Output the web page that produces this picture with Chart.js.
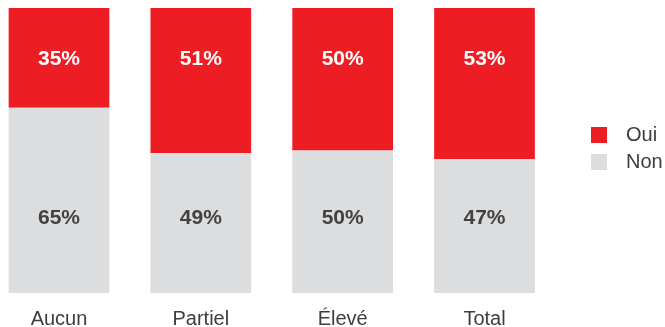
<!DOCTYPE html>
<html lang="fr">
<head>
<meta charset="utf-8">
<script src="https://cdn.jsdelivr.net/npm/chart.js@4.4.1/dist/chart.umd.min.js"></script>
<style>
  html, body { margin: 0; padding: 0; background: #fff; overflow: hidden; }
  #wrap { position: relative; width: 665px; height: 327px; overflow: hidden; }
</style>
</head>
<body>
<div id="wrap"><canvas id="chart" width="665" height="345"></canvas></div>
<script>
const categories = ["Aucun", "Partiel", "Élevé", "Total"];
const ouiValues = [35, 51, 50, 53];
const nonValues = [65, 49, 50, 47];

const RED = "#ee1d24";
const GRAY = "#dcdddf";
const TEXT = "#3d3d3d";
const FONT = "'Liberation Sans', Arial, Helvetica, sans-serif";

// percentages printed inside each bar, at a fixed height per series
const valueLabels = {
  id: "valueLabels",
  afterDatasetsDraw(chart, args, opts) {
    const ctx = chart.ctx;
    const y = chart.scales.y;
    ctx.save();
    ctx.font = "bold 21px " + FONT;
    ctx.textAlign = "center";
    ctx.textBaseline = "middle";
    chart.data.datasets.forEach((ds, i) => {
      const meta = chart.getDatasetMeta(i);
      ctx.fillStyle = ds.labelColor;
      meta.data.forEach((bar, j) => {
        ctx.fillText(ds.data[j] + "%", bar.x, y.getPixelForValue(opts.at[ds.label]));
      });
    });
    ctx.restore();
  },
};

// legend on the right, Oui above Non
const sideLegend = {
  id: "sideLegend",
  afterDraw(chart, args, opts) {
    const ctx = chart.ctx;
    ctx.save();
    ctx.font = "20px " + FONT;
    ctx.textBaseline = "middle";
    ctx.textAlign = "left";
    const items = chart.data.datasets.slice().reverse();
    items.forEach((ds, i) => {
      const top = opts.top + i * opts.step;
      ctx.fillStyle = ds.backgroundColor;
      ctx.fillRect(opts.x, top, 16, 16);
      ctx.fillStyle = TEXT;
      ctx.fillText(ds.label, opts.x + 35, top + 8.5);
    });
    ctx.restore();
  },
};

new Chart(document.getElementById("chart"), {
  type: "bar",
  data: {
    labels: categories,
    datasets: [
      {
        label: "Non",
        data: nonValues,
        backgroundColor: GRAY,
        labelColor: "#424242",
        borderWidth: 0,
        clip: false,
      },
      {
        label: "Oui",
        data: ouiValues,
        backgroundColor: RED,
        labelColor: "#ffffff",
        borderWidth: 0,
        clip: false,
      },
    ],
  },
  plugins: [valueLabels, sideLegend],
  options: {
    responsive: false,
    animation: false,
    devicePixelRatio: 1,
    layout: { padding: { top: 8, left: 59, right: 180.5, bottom: 0 } },
    barPercentage: 0.71,
    categoryPercentage: 1,
    scales: {
      x: {
        stacked: true,
        offset: false,
        grid: { display: false, drawTicks: false },
        border: { display: false },
        ticks: {
          color: TEXT,
          padding: 16,
          maxRotation: 0,
          autoSkip: false,
          font: { family: FONT, size: 20, lineHeight: 1 },
        },
      },
      y: {
        stacked: true,
        display: false,
        min: 0,
        max: 100,
      },
    },
    plugins: {
      legend: { display: false },
      tooltip: { enabled: false },
      valueLabels: { at: { Oui: 82.0, Non: 26.2 } },
      sideLegend: { x: 591, top: 127, step: 27 },
    },
  },
});
</script>
</body>
</html>
